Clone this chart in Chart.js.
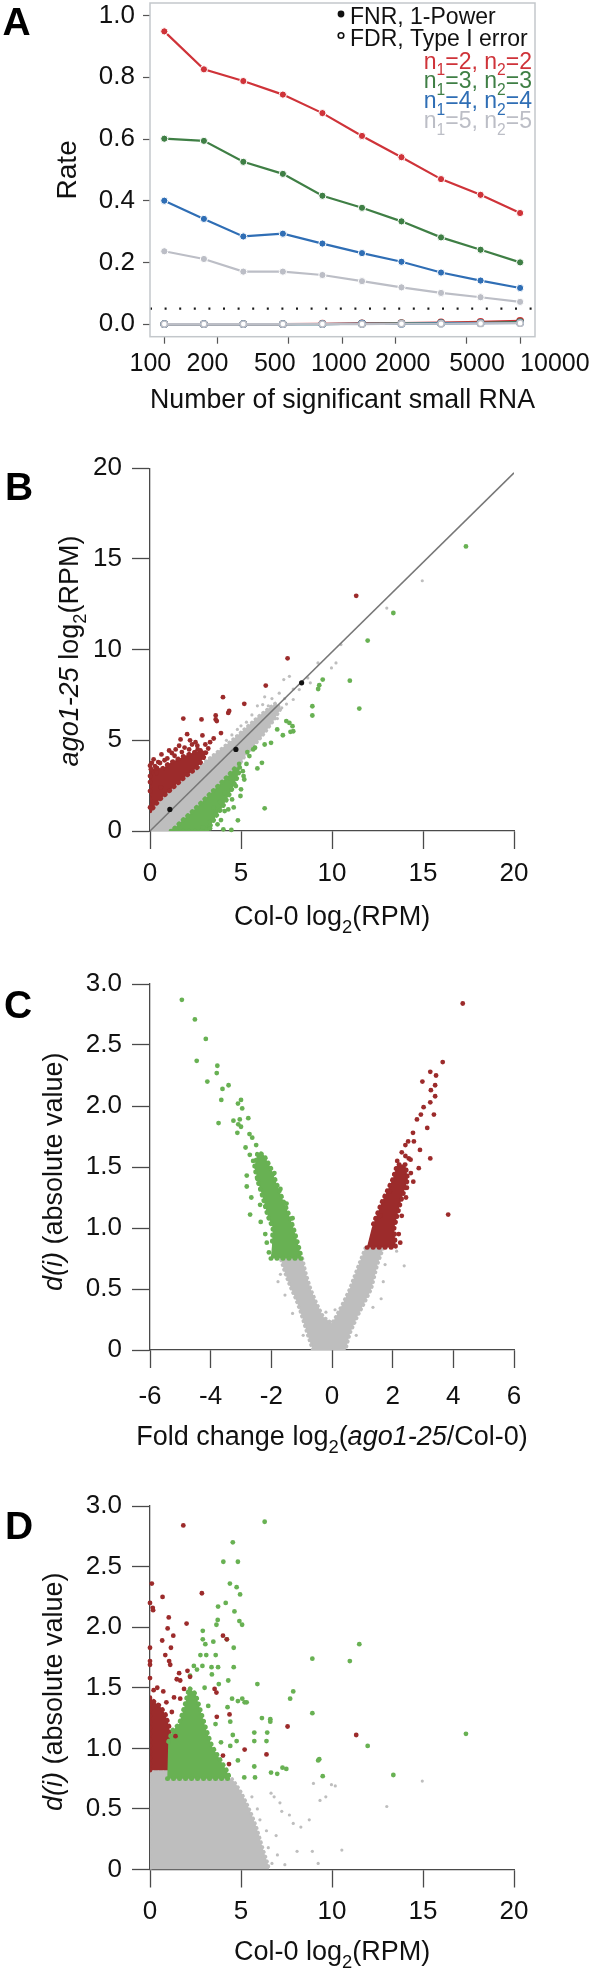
<!DOCTYPE html>
<html><head><meta charset="utf-8">
<script src="https://cdn.jsdelivr.net/npm/chart.js@4.4.1/dist/chart.umd.min.js"></script>
<style>
html,body{margin:0;padding:0;background:#fff;}
#wrap{position:relative;width:598px;height:1972px;overflow:hidden;background:#fff;}
canvas{position:absolute;left:0;}
</style></head><body><div id="wrap">
<canvas id="cA" width="598" height="425" style="top:0px"></canvas>
<canvas id="cB" width="598" height="520" style="top:425px"></canvas>
<canvas id="cC" width="598" height="520" style="top:945px"></canvas>
<canvas id="cD" width="598" height="507" style="top:1465px"></canvas>
</div>
<script>
// ---------------- Panel A data ----------------
const sigCounts = [100,167,278,464,774,1292,2154,3594,5995,10000];
const fnr_n2 = [0.949,0.826,0.788,0.744,0.684,0.610,0.541,0.470,0.419,0.360];
const fnr_n3 = [0.601,0.594,0.526,0.487,0.416,0.377,0.333,0.281,0.241,0.200];
const fnr_n4 = [0.400,0.341,0.284,0.293,0.261,0.230,0.202,0.167,0.141,0.117];
const fnr_n5 = [0.236,0.211,0.170,0.170,0.159,0.139,0.119,0.101,0.087,0.072];
const fdr_n2 = [0,0,0,0,0.001,0.002,0.003,0.005,0.007,0.010];
const fdr_n3 = [0,0,0,0,0,0.001,0.002,0.003,0.004,0.006];
const fdr_n4 = [0,0,0,0,0,0.001,0.001,0.002,0.003,0.004];
const fdr_n5 = [0,0,0,0,0,0,0.001,0.001,0.002,0.003];
const alphaLevel = 0.05;
const xTicksA = [100,200,500,1000,2000,5000,10000];
const xTickLabelsA = ['100','200','500','1000','2000','5000','10000'];
const yTicksA = [0,0.2,0.4,0.6,0.8,1.0];
const sampleSizes = [2,3,4,5];
const legendTextA = ['FNR, 1-Power','FDR, Type I error'];

// ---------------- Panel B data (Col-0 vs ago1-25, log2 RPM) ----------------
const bTicks = [0,5,10,15,20];
const bRedPts = [[11.33,12.97],[7.56,9.52],[6.36,8.02],[4.01,7.38],[5.18,7.01],[4.3,6.51],[4.35,6.62],[3.61,6.37],[3.61,6.15],[3.67,6.06],[2.83,6.15],[1.83,6.20],[2.04,5.34],[2.88,5.27],[1.68,5.05],[1.05,4.44],[1.41,4.5],[2.31,4.77],[3.04,4.77],[2.62,4.5],[0.63,4.22],[0.1,3.76],[0.27,3.58],[0,3.03],[1.2,4.3],[1.9,4.6],[0.8,3.9],[0.05,3.4],[3.3,4.9],[3.5,5.1],[2.5,4.9],[1.6,4.7],[0.45,3.8],[2.2,5.0],[3.9,5.4],[0,1.3],[0,2.2],[0.6,2.4],[0.2,3.95],[0.55,3.75],[0.95,4.0],[1.35,4.15],[1.75,4.35],[2.15,4.5],[2.6,4.7],[0.35,3.2],[0,2.7],[0,3.6],[3.2,4.55],[2.9,4.3]];
const bGreenPts = [[17.36,15.69],[13.37,12.02],[11.96,10.5],[10.98,8.29],[11.5,6.75],[9.49,8.35],[9.3,8.04],[9.24,7.83],[8.92,6.88],[8.92,6.37],[7.83,5.78],[7.87,5.5],[7.49,6.06],[7.66,5.96],[6.99,5.6],[7.3,5.28],[7.72,5.47],[6.65,4.86],[6.3,4.77],[5.77,4.59],[5.35,4.35],[6.15,3.76],[5.9,3.45],[6.3,1.25],[5.14,3.03],[4.97,1.93],[4.83,0.59],[4.47,0.06],[4.03,0.09],[5.46,4.13],[5.67,4.5],[4.3,1.19],[4.1,1.1],[3.71,0.37],[3.46,0.64],[4.51,1.74],[4.72,2.48],[5.18,2.84],[3.9,0.6],[4.6,1.3],[5.0,2.3],[5.3,3.7],[3.3,0.15],[3.6,0.9],[4.9,3.7],[4.4,2.9],[4.1,2.1],[3.85,1.6],[3.5,1.3],[3.3,0.5],[2.9,0.2],[5.1,3.3]];
const bGrayPts = [[14.96,13.8],[13.01,12.29],[10.49,10.28],[10.22,9.27],[9.23,9.27],[9.97,8.99],[8.81,8.17],[8.67,8.44],[7.87,7.83],[7.87,7.25],[7.66,8.53],[7.35,8.35],[6.19,6.97],[5.9,6.9],[6.82,6.42],[7.24,6.79],[7.1,7.6],[6.7,7.3],[5.6,6.4],[5.0,5.8],[4.5,5.3],[6.0,5.6],[5.6,5.2],[7.5,7.0],[8.2,7.8],[7.0,6.2],[6.3,7.4],[7.4,7.3],[6.5,6.9],[4.8,5.6],[5.3,6.0],[4.2,5.0]];
const bBlackPts = [[1.09,1.19],[4.72,4.5],[8.33,8.17]];
const bFitLine = [[0,0],[20,19.75]];
// outlines of the dense (saturated) point clouds
const bGrayCloud = [[0,0],[0,1.15],[0.5,1.65],[1.0,2.1],[1.5,2.55],[2.0,3.0],[2.5,3.4],[3.0,3.8],[3.5,4.2],[4.0,4.6],[4.5,5.0],[5.0,5.45],[5.5,5.9],[6.0,6.35],[6.5,6.75],[6.9,7.05],[7.2,6.75],[6.8,6.1],[6.3,5.4],[5.8,4.8],[5.3,4.25],[4.8,3.5],[4.3,3.0],[3.8,2.5],[3.3,2.0],[2.8,1.5],[2.3,1.0],[1.8,0.55],[1.3,0.1],[1.1,0]];
const bRedCloud = [[0,1.1],[0,3.35],[0.3,3.5],[0.7,3.45],[1.0,3.7],[1.4,3.9],[1.8,4.1],[2.3,4.3],[2.8,4.45],[3.1,4.3],[2.6,3.5],[2.0,3.05],[1.5,2.6],[1.0,2.15],[0.5,1.7],[0.15,1.25]];
const bGreenCloud = [[1.15,0],[3.1,0],[3.35,0.35],[3.65,0.85],[4.0,1.35],[4.3,1.9],[4.6,2.5],[4.85,3.1],[4.95,3.5],[4.7,3.5],[4.3,3.05],[3.8,2.55],[3.3,2.05],[2.8,1.55],[2.3,1.05],[1.8,0.6],[1.35,0.15]];

// ---------------- Panel C data (fold change vs |d(i)|) ----------------
const cXTicks = [-6,-4,-2,0,2,4,6];
const dValTicks = [0,0.5,1.0,1.5,2.0,2.5,3.0];
const dValLabels = ['0','0.5','1.0','1.5','2.0','2.5','3.0'];
const cGreenPts = [[-4.95,2.87],[-4.52,2.71],[-4.16,2.55],[-4.46,2.37],[-3.78,2.33],[-3.80,2.27],[-4.11,2.20],[-3.41,2.17],[-3.61,2.14],[-3.65,2.05],[-3.10,2.02],[-3.0,2.05],[-2.96,1.98],[-3.74,1.86],[-3.25,1.88],[-3.04,1.89],[-2.76,1.90],[-3.09,1.85],[-3.0,1.83],[-3.12,1.78],[-2.72,1.77],[-2.63,1.74],[-2.85,1.66],[-2.71,1.60],[-2.81,1.43],[-2.81,1.34],[-2.66,1.25],[-2.70,1.11],[-2.08,0.80],[-2.37,1.19],[-2.6,1.55],[-2.5,1.68],[-2.2,0.95],[-2.45,1.4],[-2.35,1.05],[-2.15,0.88],[-1.9,1.45],[-1.7,1.32],[-1.5,1.2],[-1.3,1.08]];
const cRedPts = [[4.31,2.84],[3.65,2.36],[3.24,2.28],[3.43,2.25],[2.98,2.20],[3.40,2.17],[3.26,2.13],[3.40,2.08],[3.24,2.03],[3.02,1.99],[3.36,1.93],[2.93,1.93],[2.80,1.89],[3.14,1.82],[2.67,1.78],[2.70,1.71],[2.51,1.71],[2.42,1.68],[2.90,1.64],[2.30,1.62],[3.24,1.57],[2.42,1.59],[2.53,1.57],[2.59,1.56],[2.86,1.49],[2.68,1.38],[3.83,1.11],[2.47,1.33],[2.44,1.25],[2.2,0.95],[2.3,1.1],[2.6,1.45],[2.15,1.55],[1.9,1.3],[1.6,1.1],[2.25,0.88]];
const cGrayPts = [[-1.78,0.56],[2.13,0.81],[2.38,0.69],[1.69,0.56],[1.62,0.42],[-0.2,0.31],[0.1,0.33],[-1.55,0.45],[-1.3,0.3],[1.35,0.35],[-0.95,0.12],[0.8,0.12],[-1.7,0.62],[1.75,0.7]];
const cGrayCloud = [[-0.64,0],[-0.8,0.12],[-0.95,0.24],[-1.05,0.32],[-1.2,0.42],[-1.38,0.52],[-1.55,0.63],[-1.7,0.75],[-0.98,0.76],[-0.85,0.62],[-0.7,0.5],[-0.5,0.38],[-0.28,0.27],[0,0.22],[0.12,0.27],[0.35,0.38],[0.58,0.5],[0.82,0.66],[1.1,0.84],[1.7,0.84],[1.5,0.7],[1.3,0.5],[1.1,0.4],[0.85,0.28],[0.6,0.14],[0.45,0]];
const cGreenCloud = [[-2.02,0.75],[-1.0,0.75],[-1.1,0.85],[-1.27,1.0],[-1.45,1.13],[-1.65,1.25],[-1.85,1.38],[-2.03,1.5],[-2.25,1.6],[-2.45,1.62],[-2.56,1.5],[-2.42,1.36],[-2.28,1.25],[-2.12,1.1],[-1.95,1.0],[-1.98,0.85]];
const cRedCloud = [[1.15,0.84],[2.1,0.84],[2.05,1.0],[2.25,1.2],[2.5,1.4],[2.42,1.52],[2.15,1.52],[2.0,1.4],[1.62,1.2],[1.31,1.0]];

// ---------------- Panel D data (Col-0 log2 RPM vs |d(i)|) ----------------
const dXTicks = [0,5,10,15,20];
const dRedPts = [[1.83,2.84],[0.1,2.36],[0.69,2.25],[0,2.2],[0.15,2.16],[0.17,2.14],[2.85,2.28],[1.03,2.08],[0.97,1.99],[2.01,2.03],[1.28,1.93],[0.67,1.89],[1.15,1.83],[0,1.83],[0.84,1.77],[0,1.72],[0,1.69],[1.05,1.72],[1.11,1.69],[1.6,1.62],[2.06,1.64],[2.2,1.59],[1.47,1.57],[1.66,1.56],[0,1.58],[4.01,1.93],[4.22,1.9],[3.55,1.49],[3.65,1.46],[4.37,1.28],[3.67,1.26],[7.56,1.18],[11.33,1.11],[5.2,0.99],[6.4,0.95],[4.01,0.94],[4.34,0.87],[0.73,1.47],[1.32,1.42],[1.87,1.49],[1.66,1.41],[0.4,1.5],[1.2,1.3],[0.2,1.48],[0.9,1.38],[1.4,1.1]];
const dGreenPts = [[6.3,2.87],[4.55,2.7],[4.03,2.54],[4.83,2.54],[4.39,2.36],[4.76,2.33],[4.95,2.27],[4.16,2.2],[3.74,2.17],[4.64,2.13],[4.91,2.05],[5.06,2.02],[3.72,2.06],[3.65,2.02],[2.9,1.97],[2.9,1.9],[3.04,1.86],[3.48,1.88],[4.22,1.9],[4.6,1.83],[2.77,1.77],[3.09,1.77],[3.61,1.77],[2.41,1.68],[2.58,1.65],[2.88,1.68],[3.4,1.61],[3.74,1.67],[4.6,1.67],[3.38,1.67],[3.78,1.53],[4.3,1.56],[5.9,1.53],[8.92,1.74],[10.98,1.72],[11.5,1.86],[7.87,1.47],[7.7,1.41],[8.92,1.29],[17.36,1.12],[11.96,1.02],[9.3,0.91],[9.24,0.9],[9.49,0.77],[13.37,0.78],[7.49,0.83],[7.28,0.84],[6.99,0.79],[6.65,0.8],[5.73,0.85],[5.77,0.76],[6.4,1.06],[6.44,1.13],[6.15,1.25],[6.61,1.24],[6.61,1.22],[5.73,1.06],[5.18,0.76],[4.83,0.9],[5.73,1.13],[4.83,1.39],[5.2,1.38],[5.07,1.41],[5.31,1.38],[4.51,1.41],[4.26,1.34],[4.41,1.22],[4.55,1.11],[4.76,1.06],[4.41,1.02],[3.2,1.35],[3.6,1.2],[2.2,1.6],[3.9,1.05],[3.0,1.5]];
const dGrayPts = [[14.96,0.73],[13.01,0.52],[10.18,0.69],[9.97,0.7],[9.66,0.6],[9.34,0.57],[8.98,0.71],[8.75,0.41],[8.29,0.35],[7.66,0.45],[7.87,0.38],[7.24,0.48],[7.14,0.55],[6.82,0.6],[6.65,0.63],[8.08,0.15],[8.92,0.15],[10.54,0.16],[9.24,0.05],[7.41,0.04],[6.5,0.18],[6.19,0.1],[6.93,0.28],[6.4,0.32],[6.04,0.41],[5.6,0.6],[5.9,0.5],[6.7,0.05],[7.0,0.12]];
const dGrayCloud = [[0,0],[0,0.82],[1.0,0.82],[1.0,0.75],[4.5,0.75],[4.75,0.7],[5.0,0.64],[5.3,0.55],[5.6,0.45],[5.85,0.35],[6.05,0.25],[6.25,0.15],[6.45,0.06],[6.55,0]];
const dRedCloud = [[0,0.82],[0,1.42],[0.25,1.38],[0.55,1.35],[0.85,1.28],[1.05,1.18],[1.12,1.0],[1.05,0.82]];
const dGreenCloud = [[0.95,0.75],[4.4,0.75],[4.2,0.82],[3.8,0.92],[3.4,1.02],[3.1,1.15],[2.8,1.3],[2.5,1.45],[2.15,1.5],[1.9,1.35],[1.6,1.2],[1.25,1.15],[1.0,1.05]];

// ---------------- styling ----------------
const FONT = '"Liberation Sans", Arial, Helvetica, sans-serif';
Chart.defaults.font.family = FONT;
Chart.defaults.color = '#111';
const AX = '#4a4a4a';
const COL_A = {n2:'#cf3339', n3:'#3f7f45', n4:'#2f6eb5', n5:'#bcbec6'};
const RED = '#9c2b2b', GREEN = '#68b153', GRAY = '#bebebe';
// label nudges (in spaces) reproducing the spread-out tick label placement of panel A
const xLabelNudgeA = [-4,-3,-4,-1,2,3,10];

const pts = a => a.map(p => ({x:p[0], y:p[1]}));
function fixW(w){ return s => { s.width = w; s.paddingTop = 0; s.paddingBottom = 0; s.paddingLeft = 0; s.paddingRight = 0; }; }
function fixH(h){ return s => { s.height = h; s.paddingTop = 0; s.paddingBottom = 0; s.paddingLeft = 0; s.paddingRight = 0; }; }
function setTicks(vals){ return s => { s.ticks = vals.map(v => ({value:v})); }; }
function nudge(label, n){ const sp = ' '.repeat(Math.abs(n)); return n < 0 ? label + sp : sp + label; }

function drawRich(ctx, segs, x, y, size, align, rot, color){
  ctx.save();
  ctx.translate(x, y);
  if (rot) ctx.rotate(rot);
  let total = 0;
  const ms = segs.map(s => {
    const sz = s.sub ? size*0.68 : size;
    const f = (s.b ? 'bold ' : '') + (s.i ? 'italic ' : '') + sz + 'px ' + FONT;
    ctx.font = f;
    const w = ctx.measureText(s.t).width;
    total += w;
    return {f, w, dy: s.sub ? size*0.3 : 0};
  });
  let cx = align === 'center' ? -total/2 : (align === 'right' ? -total : 0);
  ctx.textBaseline = 'alphabetic';
  ctx.textAlign = 'left';
  ctx.fillStyle = color || '#111';
  segs.forEach((s,k) => { ctx.font = ms[k].f; ctx.fillText(s.t, cx, ms[k].dy); cx += ms[k].w; });
  ctx.restore();
}

// ---------------- Panel A ----------------
function fnrDs(vals, color, order){
  return {data: sigCounts.map((x,i)=>({x, y:vals[i]})), showLine:true, borderColor:color, borderWidth:2.2,
    pointRadius:3.6, pointBackgroundColor:color, pointBorderColor:'#ffffff', pointBorderWidth:1, order};
}
function fdrDs(vals, color, order){
  return {data: sigCounts.map((x,i)=>({x, y:vals[i]})), showLine:true, borderColor:color, borderWidth:2.2,
    pointRadius:3.1, pointBackgroundColor:'#ffffff', pointBorderColor:color, pointBorderWidth:1.6, order};
}
const decoA = {
  id:'decoA',
  afterDraw(chart){
    const ctx = chart.ctx, a = chart.chartArea;
    ctx.save();
    ctx.strokeStyle = '#c3c7cb'; ctx.lineWidth = 1.5;
    ctx.strokeRect(a.left, a.top, a.right - a.left, a.bottom - a.top);
    ctx.fillStyle = '#111'; ctx.font = '23px ' + FONT; ctx.textAlign = 'left'; ctx.textBaseline = 'alphabetic';
    ctx.fillText(legendTextA[0], 350, 24);
    ctx.fillText(legendTextA[1], 350, 45.5);
    ctx.beginPath(); ctx.arc(341, 14, 3.4, 0, 2*Math.PI); ctx.fill();
    ctx.beginPath(); ctx.arc(341, 35.5, 2.8, 0, 2*Math.PI); ctx.lineWidth = 1.6; ctx.strokeStyle = '#111'; ctx.stroke();
    const cols = [COL_A.n2, COL_A.n3, COL_A.n4, COL_A.n5];
    const base = [68.5, 88.3, 108.2, 128.1];
    sampleSizes.forEach((n,k) => {
      drawRich(ctx, [{t:'n'},{t:'1',sub:true},{t:'='+n+', n'},{t:'2',sub:true},{t:'='+n}], 532, base[k], 23, 'right', 0, cols[k]);
    });
    drawRich(ctx, [{t:'A', b:true}], 2.5, 35, 39, 'left', 0, '#000');
    ctx.restore();
  }
};
new Chart(document.getElementById('cA'), {
  type:'scatter',
  data:{datasets:[
    {data:[{x:83.1,y:alphaLevel},{x:12126,y:alphaLevel}], showLine:true, borderColor:'#1a1a1a', borderWidth:2.2, borderDash:[2,12.6], pointRadius:0, order:20},
    fdrDs(fdr_n5, COL_A.n5, 1), fdrDs(fdr_n4, COL_A.n4, 2), fdrDs(fdr_n3, COL_A.n3, 3), fdrDs(fdr_n2, COL_A.n2, 4),
    fnrDs(fnr_n2, COL_A.n2, 5), fnrDs(fnr_n3, COL_A.n3, 6), fnrDs(fnr_n4, COL_A.n4, 7), fnrDs(fnr_n5, COL_A.n5, 8)
  ]},
  options:{
    responsive:false, animation:false, events:[],
    layout:{autoPadding:false, padding:{left:0, top:3, right:63, bottom:0}},
    plugins:{legend:{display:false}, tooltip:{enabled:false}},
    scales:{
      x:{type:'logarithmic', min:83.1, max:12126, afterFit:fixH(88.3), afterBuildTicks:setTicks(xTicksA),
        ticks:{autoSkip:false, maxRotation:0, minRotation:0, padding:5, font:{size:25}, color:'#111',
          callback:(v,i) => nudge(xTickLabelsA[i], xLabelNudgeA[i])},
        grid:{display:true, drawOnChartArea:false, drawTicks:true, tickLength:7, tickColor:'#555', tickWidth:1.2},
        border:{display:false},
        title:{display:true, text:'Number of significant small RNA', color:'#111', font:{size:28, lineHeight:1.2}, padding:{top:0, bottom:8}}},
      y:{type:'linear', min:-0.041, max:1.041, afterFit:fixW(150), afterBuildTicks:setTicks(yTicksA),
        ticks:{padding:8, font:{size:26}, color:'#111', callback:v => v.toFixed(1)},
        grid:{display:true, drawOnChartArea:false, drawTicks:true, tickLength:7, tickColor:'#555', tickWidth:1.2},
        border:{display:false},
        title:{display:true, text:'Rate', color:'#111', font:{size:28, lineHeight:1.2}, padding:{top:51, bottom:0}}}
    }
  },
  plugins:[decoA]
});

// ---------------- scatter panels ----------------
function cloud(arr, color, order, dotW, gap){
  return {data:pts(arr), showLine:true, fill:'shape', backgroundColor:color, borderColor:color,
    borderWidth:dotW, borderDash:[0.5, gap], borderCapStyle:'round', pointRadius:0, tension:0, order};
}
function dots(arr, color, r, order){
  return {data:pts(arr), backgroundColor:color, borderColor:color, borderWidth:0, pointRadius:r, clip:false, order};
}
function deco(id, letter, letterX, letterY, xTitle, xTitleY, yTitle, yTitleX, yTitleY){
  return {id, afterDraw(chart){
    const ctx = chart.ctx;
    drawRich(ctx, [{t:letter, b:true}], letterX, letterY, 39, 'left', 0, '#000');
    drawRich(ctx, xTitle, 332, xTitleY, 27, 'center', 0, '#111');
    drawRich(ctx, yTitle, yTitleX, yTitleY, 27, 'center', -Math.PI/2, '#111');
  }};
}
function panel(id, H, top, bottom, xMin, xMax, xTicks, xFmt, xPad, yMin, yMax, yTicks, yFmt, datasets, decoPlugin){
  return new Chart(document.getElementById(id), {
    type:'scatter',
    data:{datasets},
    options:{
      responsive:false, animation:false, events:[],
      layout:{autoPadding:false, padding:{left:0, top, right:598-514, bottom:0}},
      plugins:{legend:{display:false}, tooltip:{enabled:false}},
      scales:{
        x:{type:'linear', min:xMin, max:xMax, afterFit:fixH(H-bottom), afterBuildTicks:setTicks(xTicks),
          ticks:{autoSkip:false, maxRotation:0, minRotation:0, padding:xPad, font:{size:26}, color:'#111', callback:xFmt},
          grid:{display:true, drawOnChartArea:false, drawTicks:true, tickLength:18, tickColor:AX, tickWidth:1.3},
          border:{display:true, color:AX, width:1.3}},
        y:{type:'linear', min:yMin, max:yMax, afterFit:fixW(150), afterBuildTicks:setTicks(yTicks),
          ticks:{padding:10, font:{size:26}, color:'#111', callback:yFmt},
          grid:{display:true, drawOnChartArea:false, drawTicks:true, tickLength:18, tickColor:AX, tickWidth:1.3},
          border:{display:true, color:AX, width:1.3}}
      }
    },
    plugins:[decoPlugin]
  });
}
const plainFmt = v => String(v);
const dFmt = (v,i) => dValLabels[i];

// Panel B
panel('cB', 520, 43.3, 406, 0, 20, bTicks, plainFmt, 9.6, 0, 20, bTicks, plainFmt, [
  dots(bBlackPts, '#111111', 2.6, 0),
  dots(bRedPts, RED, 2.4, 1),
  dots(bGreenPts, GREEN, 2.4, 2),
  {data:pts(bFitLine), showLine:true, borderColor:'#777777', borderWidth:1.5, pointRadius:0, order:3},
  dots(bGrayPts, GRAY, 1.6, 4),
  cloud(bGreenCloud, GREEN, 5, 4.6, 5.5),
  cloud(bRedCloud, RED, 6, 4.6, 5.5),
  cloud(bGrayCloud, GRAY, 7, 3.4, 4.5)
], deco('decoB','B',5,75,
  [{t:'Col-0 log'},{t:'2',sub:true},{t:'(RPM)'}], 499.7,
  [{t:'ago1-25',i:true},{t:' log'},{t:'2',sub:true},{t:'(RPM)'}], 78, 226));

// Panel C
panel('cC', 520, 39, 405, -6, 6, cXTicks, plainFmt, 13.6, 0, 3, dValTicks, dFmt, [
  dots(cRedPts, RED, 2.4, 1),
  dots(cGreenPts, GREEN, 2.4, 2),
  dots(cGrayPts, GRAY, 1.6, 3),
  cloud(cRedCloud, RED, 4, 4.6, 5.5),
  cloud(cGreenCloud, GREEN, 5, 4.6, 5.5),
  cloud(cGrayCloud, GRAY, 6, 3.4, 4.5)
], deco('decoC','C',4,73,
  [{t:'Fold change log'},{t:'2',sub:true},{t:'('},{t:'ago1-25',i:true},{t:'/Col-0)'}], 499.7,
  [{t:'d(i)',i:true},{t:' (absolute value)'}], 61.7, 226.7));

// Panel D
panel('cD', 507, 41, 404.5, 0, 20, dXTicks, plainFmt, 9.1, 0, 3, dValTicks, dFmt, [
  dots(dRedPts, RED, 2.4, 1),
  dots(dGreenPts, GREEN, 2.4, 2),
  dots(dGrayPts, GRAY, 1.6, 3),
  cloud(dGreenCloud, GREEN, 4, 4.6, 5.5),
  cloud(dRedCloud, RED, 5, 4.6, 5.5),
  cloud(dGrayCloud, GRAY, 6, 3.4, 4.5)
], deco('decoD','D',5,74,
  [{t:'Col-0 log'},{t:'2',sub:true},{t:'(RPM)'}], 494.7,
  [{t:'d(i)',i:true},{t:' (absolute value)'}], 61.7, 226.7));
</script>
</body></html>
